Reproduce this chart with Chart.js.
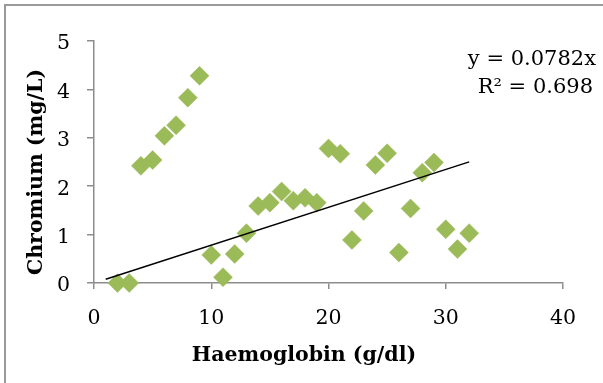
<!DOCTYPE html>
<html>
<head>
<meta charset="utf-8">
<script src="https://cdn.jsdelivr.net/npm/chart.js@4.4.1/dist/chart.umd.min.js"></script>
<style>
  html, body { margin: 0; padding: 0; background: #fff; }
  canvas { display: block; }
</style>
</head>
<body>
<canvas id="crChart" width="603" height="383"></canvas>
<script>
// Haemoglobin vs chromium samples
const haemoglobin = [2, 3, 4, 5, 6, 7, 8, 9, 10, 11, 12, 13, 14, 15, 16, 17, 18, 19, 20, 21, 22, 23, 24, 25, 26, 27, 28, 29, 30, 31, 32]
const chromium = [0, 0, 2.42, 2.54, 3.04, 3.26, 3.83, 4.28, 0.58, 0.12, 0.60, 1.03, 1.59, 1.66, 1.89, 1.70, 1.76, 1.66, 2.78, 2.67, 0.89, 1.49, 2.44, 2.68, 0.63, 1.54, 2.28, 2.49, 1.11, 0.70, 1.03]

// Linear fit through the origin
const slope = 0.0782
const rSquared = 0.698
const trendRange = [1, 32]

const xTicks = [0, 10, 20, 30, 40]
const yTicks = [0, 1, 2, 3, 4, 5]

const xTitle = "Haemoglobin (g/dl)"
const yTitle = "Chromium (mg/L)"

const serif = "'DejaVu Serif', 'Liberation Serif', serif"
const axisGrey = "#8c8c8c"

const points = haemoglobin.map((x, i) => ({ x: x, y: chromium[i] }))
const trendPoints = trendRange.map((x) => ({ x: x, y: slope * x }))

// Frame, axis titles and equation text
const decorations = {
  id: "decorations",
  beforeDraw(chart) {
    const ctx = chart.ctx
    ctx.save()
    ctx.strokeStyle = "#9a9a9a"
    ctx.lineWidth = 2
    ctx.beginPath()
    ctx.moveTo(5, chart.height + 2)
    ctx.lineTo(5, 5)
    ctx.lineTo(chart.width + 2, 5)
    ctx.stroke()
    ctx.restore()
  },
  afterDraw(chart) {
    const ctx = chart.ctx
    ctx.save()
    ctx.fillStyle = "#000"

    ctx.font = "bold 20.5px " + serif
    ctx.textAlign = "center"
    ctx.textBaseline = "alphabetic"
    ctx.fillText(xTitle, 304, 361)

    ctx.save()
    ctx.translate(42, 172)
    ctx.rotate(-Math.PI / 2)
    ctx.fillText(yTitle, 0, 0)
    ctx.restore()

    ctx.font = "21px " + serif
    ctx.textAlign = "right"
    ctx.textBaseline = "middle"
    ctx.fillText("y = " + slope + "x", 596, 60)
    ctx.fillText("R² = " + rSquared, 593, 88)
    ctx.restore()
  },
}

new Chart(document.getElementById("crChart"), {
  type: "scatter",
  data: {
    datasets: [
      {
        type: "line",
        label: "Trend",
        data: trendPoints,
        borderColor: "#000",
        borderWidth: 1.5,
        pointRadius: 0,
        fill: false,
      },
      {
        label: "Chromium",
        data: points,
        pointStyle: "rectRot",
        pointRadius: 9.5,
        pointHoverRadius: 9.5,
        backgroundColor: "#9bbb59",
        borderColor: "#9bbb59",
        borderWidth: 0.5,
        clip: false,
      },
    ],
  },
  options: {
    responsive: false,
    devicePixelRatio: 1,
    animation: false,
    layout: { padding: { left: 0, top: 41, right: 40, bottom: 0 } },
    plugins: {
      legend: { display: false },
      tooltip: { enabled: false },
    },
    scales: {
      x: {
        type: "linear",
        min: 0,
        max: 40,
        afterBuildTicks: (scale) => {
          scale.ticks = xTicks.map((v) => ({ value: v }))
        },
        afterFit: (scale) => {
          scale.height = 100
        },
        grid: {
          display: true,
          drawOnChartArea: false,
          drawTicks: true,
          tickLength: 6,
          color: axisGrey,
          lineWidth: 1.5,
        },
        border: { color: axisGrey, width: 1.5 },
        ticks: {
          color: "#000",
          font: { family: serif, size: 20.5 },
          padding: 17,
        },
      },
      y: {
        type: "linear",
        min: 0,
        max: 5,
        afterBuildTicks: (scale) => {
          scale.ticks = yTicks.map((v) => ({ value: v }))
        },
        afterFit: (scale) => {
          scale.width = 94
        },
        grid: {
          display: true,
          drawOnChartArea: false,
          drawTicks: true,
          tickLength: 7,
          color: axisGrey,
          lineWidth: 1.5,
        },
        border: { color: axisGrey, width: 1.5 },
        ticks: {
          color: "#000",
          font: { family: serif, size: 20.5 },
          padding: 17,
          labelOffset: 3,
        },
      },
    },
  },
  plugins: [decorations],
})
</script>
</body>
</html>
